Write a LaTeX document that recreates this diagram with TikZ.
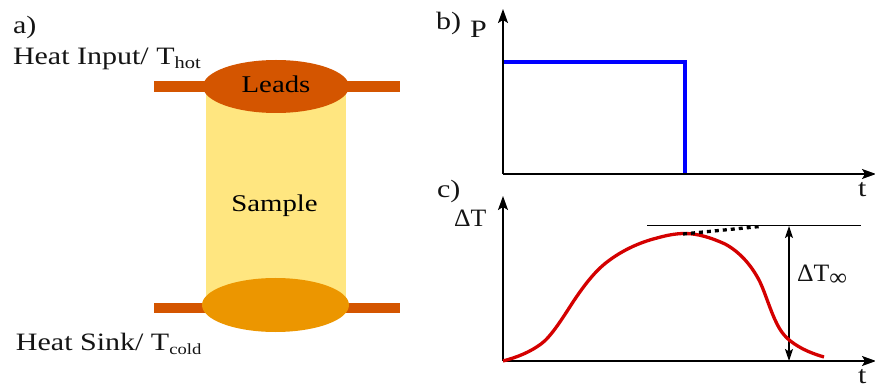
\documentclass[tikz,border=0pt]{standalone}
\usepackage{fontspec}
\setmainfont[FakeStretch=1.2]{Liberation Serif}
\newfontfamily\narrowfam[FakeStretch=1.03]{Liberation Serif}
\usetikzlibrary{arrows.meta,shapes.geometric}
\definecolor{leadc}{HTML}{D45500}
\definecolor{samplec}{HTML}{FFE680}
\definecolor{sinkc}{HTML}{EC9600}
\definecolor{redc}{HTML}{D40000}
\newcommand{\lowsub}[2][17]{\raisebox{-4pt}{\fontsize{#1}{#1}\selectfont #2}}
\tikzset{
  x=1pt,y=-1pt,
  lab/.style={anchor=base west,inner sep=0pt,outer sep=0pt,font=\fontsize{25}{25}\selectfont,text=black!92},
  cen/.style={anchor=base,inner sep=0pt,font=\fontsize{24}{24}\selectfont,text=black},
  bar/.style={draw=none,fill=leadc,inner sep=0pt,minimum width=246pt,minimum height=11pt},
  blob/.style={ellipse,draw=none,inner sep=0pt,minimum width=146pt,minimum height=53pt},
  axis/.style={line width=1.5pt,-{Stealth[length=14pt,width=10pt,inset=3pt]}},
  thinline/.style={line width=1pt},
  dim/.style={line width=1.4pt,{Stealth[length=12pt,width=8pt,inset=2.5pt]}-{Stealth[length=12pt,width=8pt,inset=2.5pt]}},
}
\begin{document}
\begin{tikzpicture}
\useasboundingbox (0,0) rectangle (875,387);
% part a
\node[fill=samplec,inner sep=0pt,minimum width=140pt,minimum height=219pt] (sample) at (276,195) {};
\node[bar] (topbar) at (277,86.5) {};
\node[bar,minimum height=10.5pt] (botbar) at (277,308) {};
\node[blob,fill=leadc] (leads) at (276,86.5) {};
\node[blob,fill=sinkc,minimum width=147pt,minimum height=54pt] (sink) at (275.5,305) {};
\node[cen] (leadst) at (276,93) {Leads};
\node[cen] (samplet) at (274.5,212) {Sample};
\node[lab] (alab) at (13,34) {a)};
\node[lab] (hot) at (13,65) {Heat Input/ T\lowsub{hot}};
\node[lab] (cold) at (16,350) {Heat Sink/ T\lowsub[15.5]{cold}};
% part b
\coordinate (bo) at (503,174);
\coordinate (by) at (503,9);
\coordinate (bx) at (876,174);
\coordinate (b1) at (503,62);
\coordinate (b2) at (685,62);
\coordinate (b3) at (685,174);
\draw[line width=3.5pt,blue] (b1) -- (b2) -- (b3);
\draw[axis] (bo) -- (by);
\draw[axis] (bo) -- (bx);
\node[lab] (blab) at (436,30) {b)};
\node[lab] (plab) at (470,38) {P};
\node[lab] (tb) at (858,197) {t};
% part c
\coordinate (co) at (503,361);
\coordinate (cy) at (503,196);
\coordinate (cx) at (876,361);
\coordinate (h1) at (647,226);
\coordinate (h2) at (861,226);
\coordinate (d1) at (789,226);
\coordinate (d2) at (789,361);
\coordinate (t1) at (683,234);
\coordinate (t2) at (760,226.5);
\draw[axis] (co) -- (cy);
\draw[axis] (co) -- (cx);
\draw[thinline] (h1) -- (h2);
\draw[dim] (d1) -- (d2);
\draw[line width=3.3pt,redc,line join=round]
 (503,361) .. controls (518,357) and (530,352) .. (541,344)
 .. controls (551,336.7) and (562,319) .. (573,302)
 .. controls (583,287) and (594,272) .. (607,262)
 .. controls (620,252) and (637,243) .. (657,238)
 .. controls (666,235.5) and (675,233.5) .. (685,233.5)
 .. controls (698,233.5) and (712,238) .. (725,244)
 .. controls (740,252) and (752,266) .. (760,282)
 .. controls (766,295) and (770,310) .. (777,324)
 .. controls (783,336) and (790,342) .. (803,349)
 .. controls (810,352.5) and (817,355) .. (824,357);
\draw[line width=3.3pt,black,dash pattern=on 4pt off 4pt] (t1) -- (t2);
\node[lab] (clab) at (437,198) {c)};
\node[lab,font=\fontsize{25}{25}\narrowfam] (dtlab) at (454,227) {ΔT};
\node[lab] (tc) at (858,383) {t};
\node[lab,font=\fontsize{25}{25}\narrowfam] (dtinf) at (797,282) {ΔT\raisebox{-3pt}{\fontsize{24}{24}\selectfont ∞}};
\end{tikzpicture}
\end{document}
